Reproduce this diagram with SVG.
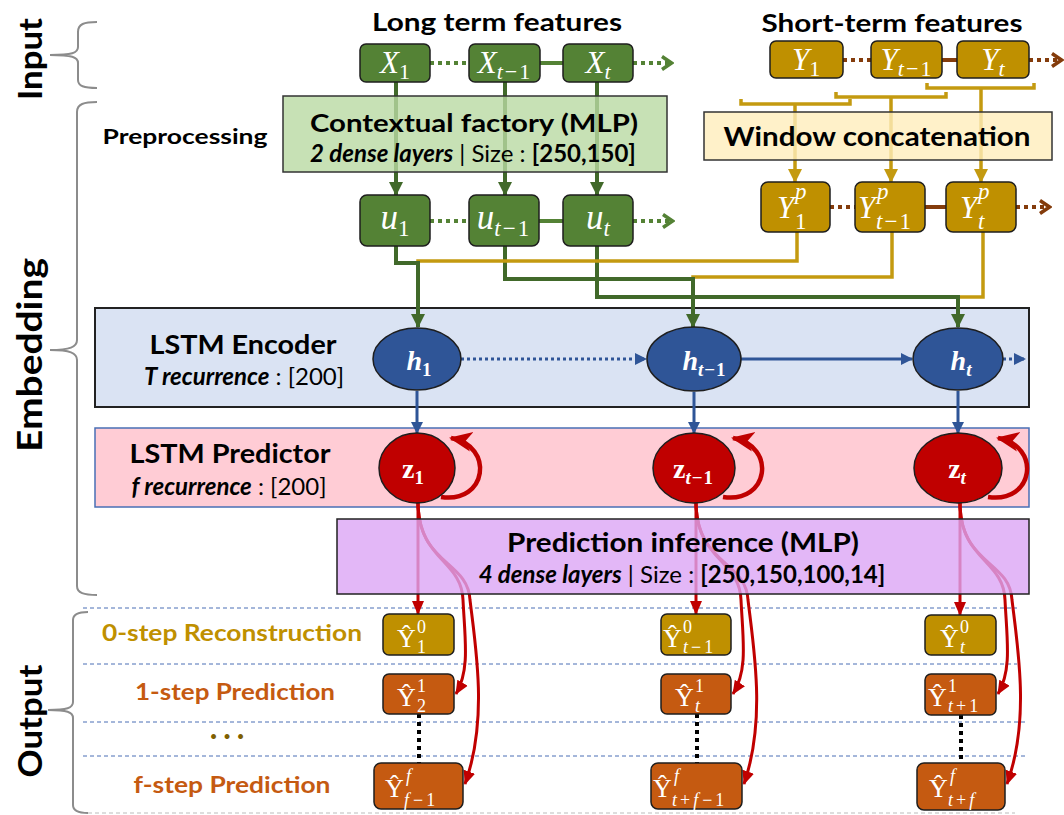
<svg xmlns="http://www.w3.org/2000/svg" width="1064" height="815" viewBox="0 0 1064 815">
<style>
.t{font-family:Lato,"Open Sans",sans-serif;font-weight:bold;fill:#000}
.n{font-weight:normal}
.i{font-style:italic}
.m{font-family:"Liberation Serif",serif;fill:#fff}
.mi{font-style:italic}
.mb{font-weight:bold}
.gbox{fill:#548235;stroke:#1e1e1e;stroke-width:1.5}
.ybox{fill:#bf9000;stroke:#1e1e1e;stroke-width:1.5}
.obox{fill:#c55a11;stroke:#1e1e1e;stroke-width:1.5}
.brace{fill:none;stroke:#8c8c8c;stroke-width:2}
.grid{stroke:#4a6fb5;stroke-width:1;stroke-dasharray:4 3}
.gl{fill:none;stroke:#41692a;stroke-width:4}
.gd{fill:none;stroke:#548235;stroke-width:4;stroke-dasharray:4 4}
.gs{fill:none;stroke:#548235;stroke-width:4}
.yl{fill:none;stroke:#c49a10;stroke-width:3.5}
.bd{fill:none;stroke:#843c0c;stroke-width:4;stroke-dasharray:4 4}
.bs{fill:none;stroke:#843c0c;stroke-width:4}
.bl{fill:none;stroke:#2f5597;stroke-width:3}
.bld{fill:none;stroke:#2f5597;stroke-width:3;stroke-dasharray:3 3}
.rl{fill:none;stroke:#c00000;stroke-width:3}
.kd{fill:none;stroke:#000;stroke-width:4;stroke-dasharray:4 4}
</style>
<defs>
<marker id="aG" markerUnits="userSpaceOnUse" markerWidth="14" markerHeight="14" viewBox="0 0 14 14" refX="13" refY="7" orient="auto"><path d="M0,0 L14,7 L0,14 z" fill="#41692a"/></marker>
<marker id="aY" markerUnits="userSpaceOnUse" markerWidth="14" markerHeight="14" viewBox="0 0 14 14" refX="13" refY="7" orient="auto"><path d="M0,0 L14,7 L0,14 z" fill="#c49a10"/></marker>
<marker id="aB" markerUnits="userSpaceOnUse" markerWidth="12" markerHeight="12" viewBox="0 0 12 12" refX="11" refY="6" orient="auto"><path d="M0,0 L12,6 L0,12 z" fill="#2f5597"/></marker>
<marker id="aR" markerUnits="userSpaceOnUse" markerWidth="14" markerHeight="14" viewBox="0 0 14 14" refX="13" refY="7" orient="auto"><path d="M0,1 L14,7 L0,13 z" fill="#c00000"/></marker>
<marker id="aRL" markerUnits="userSpaceOnUse" markerWidth="24" markerHeight="24" viewBox="0 0 24 24" refX="21" refY="12" orient="auto"><path d="M0,2 L23,12 L0,22 L6,12 z" fill="#c00000"/></marker>
<marker id="cG" markerUnits="userSpaceOnUse" markerWidth="14" markerHeight="16" viewBox="0 0 14 16" refX="12" refY="8" orient="auto"><path d="M2,1.5 L11.5,8 L2,14.5" fill="none" stroke="#548235" stroke-width="3.5"/></marker>
<marker id="cBr" markerUnits="userSpaceOnUse" markerWidth="14" markerHeight="16" viewBox="0 0 14 16" refX="12" refY="8" orient="auto"><path d="M2,1.5 L11.5,8 L2,14.5" fill="none" stroke="#843c0c" stroke-width="3.5"/></marker>
</defs>

<rect width="1064" height="815" fill="#fff"/>

<!-- side labels and braces -->
<g id="side-labels">
<path class="brace" d="M97,22 C84,22 78,24 78,32 V47 C78,53 72,55 50,55 C72,55 78,57 78,63 V80 C78,86 84,88 97,88"/>
<path class="brace" d="M97,102 C84,102 77,104 77,112 V340 C77,347 70,350 50,350 C70,350 77,353 77,360 V586 C77,593 84,595 97,595"/>
<path class="brace" d="M88,612 C78,612 73,614 73,620 V702 C73,708 67,710 48,710 C67,710 73,712 73,718 V805 C73,811 78,813 88,813"/>
<text class="t" transform="translate(42,59) rotate(-90)" text-anchor="middle" font-size="32" textLength="82" lengthAdjust="spacingAndGlyphs">Input</text>
<text class="t" transform="translate(42,355) rotate(-90)" text-anchor="middle" font-size="34" textLength="194" lengthAdjust="spacingAndGlyphs">Embedding</text>
<text class="t" transform="translate(42,721) rotate(-90)" text-anchor="middle" font-size="32" textLength="113" lengthAdjust="spacingAndGlyphs">Output</text>
</g>

<!-- output grid lines -->
<g id="grid">
<line class="grid" x1="83" y1="608" x2="1017" y2="608"/>
<line class="grid" x1="83" y1="664" x2="1017" y2="664"/>
<line class="grid" x1="83" y1="722" x2="1027" y2="722"/>
<line class="grid" x1="83" y1="756" x2="1027" y2="756"/>
<line x1="88" y1="813" x2="1015" y2="813" stroke="#bbbbbb" stroke-width="1" stroke-dasharray="4 3"/>
</g>

<!-- titles -->
<g id="titles">
<text class="t" x="497" y="31" text-anchor="middle" font-size="24" textLength="250" lengthAdjust="spacingAndGlyphs">Long term features</text>
<text class="t" x="892" y="32" text-anchor="middle" font-size="24" textLength="261" lengthAdjust="spacingAndGlyphs">Short-term features</text>
<text class="t" x="185" y="144" text-anchor="middle" font-size="21" textLength="165" lengthAdjust="spacingAndGlyphs">Preprocessing</text>
<text class="t" x="232" y="641" text-anchor="middle" font-size="22" style="fill:#bf9000" textLength="260" lengthAdjust="spacingAndGlyphs">0-step Reconstruction</text>
<text class="t" x="235" y="700" text-anchor="middle" font-size="22" style="fill:#c55a11" textLength="200" lengthAdjust="spacingAndGlyphs">1-step Prediction</text>
<text class="t" x="227" y="745" text-anchor="middle" font-size="26" style="fill:#7f6000">· · ·</text>
<text class="t" x="232" y="793" text-anchor="middle" font-size="22" style="fill:#c55a11" textLength="197" lengthAdjust="spacingAndGlyphs">f-step Prediction</text>
</g>

<!-- background layer boxes -->
<g id="lstm-encoder">
<rect x="95" y="308" width="934" height="99" fill="#dae3f3" stroke="#222" stroke-width="2"/>
<text class="t" x="243" y="354" text-anchor="middle" font-size="26" textLength="187" lengthAdjust="spacingAndGlyphs">LSTM Encoder</text>
<text class="t" x="244" y="385" text-anchor="middle" font-size="24"><tspan class="i">T recurrence</tspan><tspan class="n"> : </tspan><tspan class="n">[200]</tspan></text>
</g>
<g id="lstm-predictor">
<rect x="95" y="428" width="934" height="79" fill="#ffccd5" stroke="#4a6fb5" stroke-width="1.5"/>
<text class="t" x="230" y="463" text-anchor="middle" font-size="26" textLength="201" lengthAdjust="spacingAndGlyphs">LSTM Predictor</text>
<text class="t" x="229" y="495" text-anchor="middle" font-size="24"><tspan class="i">f recurrence</tspan><tspan class="n"> : </tspan><tspan class="n">[200]</tspan></text>
</g>

<!-- connectors -->
<g id="connectors">
<path class="gl" d="M396,82 V195" marker-end="url(#aG)"/>
<path class="gl" d="M505,82 V195" marker-end="url(#aG)"/>
<path class="gl" d="M597,82 V195" marker-end="url(#aG)"/>
<path class="gd" d="M430,63 H469"/>
<path class="gs" d="M540,63 H563"/>
<path class="gd" d="M633,63 H672" marker-end="url(#cG)"/>
<path class="bd" d="M843,60 H871"/>
<path class="bs" d="M942,60 H957"/>
<path class="bd" d="M1029,60 H1062" marker-end="url(#cBr)"/>
<path class="yl" d="M741,99 V104 H850 V99"/>
<path class="yl" d="M836,92 V97 H946 V92"/>
<path class="yl" d="M927,83 V88 H1034 V83"/>
<path class="yl" d="M795,104 V182" marker-end="url(#aY)"/>
<path class="yl" d="M891,97 V182" marker-end="url(#aY)"/>
<path class="yl" d="M981,88 V182" marker-end="url(#aY)"/>
<path class="gd" d="M430,221 H469"/>
<path class="gs" d="M539,221 H563"/>
<path class="gd" d="M633,221 H673" marker-end="url(#cG)"/>
<path class="bd" d="M830,207 H855"/>
<path class="bs" d="M925,207 H946"/>
<path class="bd" d="M1016,207 H1050" marker-end="url(#cBr)"/>
<path class="gl" d="M396,246 V263 H418"/>
<path class="gl" d="M505,246 V279 H693"/>
<path class="gl" d="M597,246 V297 H958"/>
<path class="yl" d="M797,232 V261 H418 V300"/>
<path class="yl" d="M892,232 V277 H693 V300"/>
<path class="yl" d="M983,232 V297 H958 V300"/>
<path class="gl" d="M418,261 V327" marker-end="url(#aG)"/>
<path class="gl" d="M693,277 V327" marker-end="url(#aG)"/>
<path class="gl" d="M958,295 V327" marker-end="url(#aG)"/>
<path class="bld" d="M461,359 H646" marker-end="url(#aB)"/>
<path class="bl" d="M741,359 H912" marker-end="url(#aB)"/>
<path class="bld" d="M1003,359 H1025" marker-end="url(#aB)"/>
<path class="bl" d="M417,391 V433" marker-end="url(#aB)"/>
<path class="bl" d="M694,392 V433" marker-end="url(#aB)"/>
<path class="bl" d="M958,391 V433" marker-end="url(#aB)"/>
<path d="M441,497 C487,504 495,446 451,438" fill="none" stroke="#c00000" stroke-width="4.5" marker-end="url(#aRL)"/>
<path d="M723,497 C769,504 777,446 733,438" fill="none" stroke="#c00000" stroke-width="4.5" marker-end="url(#aRL)"/>
<path d="M988,497 C1034,504 1042,446 998,438" fill="none" stroke="#c00000" stroke-width="4.5" marker-end="url(#aRL)"/>
<path class="rl" d="M418,502 V614" marker-end="url(#aR)"/>
<path class="rl" d="M418,502 C418,560 462,560 463,600 C465,640 470,670 456,694" marker-end="url(#aR)"/>
<path class="rl" d="M418,502 C418,565 468,560 470,600 C476,650 488,720 465,784" marker-end="url(#aR)"/>
<path class="rl" d="M696,502 V614" marker-end="url(#aR)"/>
<path class="rl" d="M696,502 C696,560 740,560 741,600 C743,640 748,670 733,694" marker-end="url(#aR)"/>
<path class="rl" d="M696,502 C696,565 746,560 748,600 C754,650 766,720 744,784" marker-end="url(#aR)"/>
<path class="rl" d="M960,503 V615" marker-end="url(#aR)"/>
<path class="rl" d="M960,503 C960,560 1004,560 1005,600 C1007,640 1012,670 998,694" marker-end="url(#aR)"/>
<path class="rl" d="M960,503 C960,565 1010,560 1012,600 C1018,650 1030,720 1007,784" marker-end="url(#aR)"/>
<path class="kd" d="M419,714 V763"/>
<path class="kd" d="M697,714 V763"/>
<path class="kd" d="M961,715 V763"/>
</g>

<!-- translucent module boxes -->
<g id="contextual-factory">
<rect x="283" y="96" width="384" height="76" fill="#b9d9a3" fill-opacity="0.8" stroke="#333" stroke-width="1.5"/>
<text class="t" x="474" y="132" text-anchor="middle" font-size="25" textLength="328" lengthAdjust="spacingAndGlyphs">Contextual factory (MLP)</text>
<text class="t" x="473" y="162" text-anchor="middle" font-size="24"><tspan class="i">2 dense layers</tspan><tspan class="n"> | Size : </tspan><tspan>[250,150]</tspan></text>
</g>
<g id="window-concatenation">
<rect x="704" y="112" width="348" height="48" fill="#ffeebb" fill-opacity="0.8" stroke="#333" stroke-width="1.5"/>
<text class="t" x="877" y="146" text-anchor="middle" font-size="26" textLength="307" lengthAdjust="spacingAndGlyphs">Window concatenation</text>
</g>
<g id="prediction-inference">
<rect x="337" y="519" width="692" height="75" fill="#dca5f5" fill-opacity="0.8" stroke="#222" stroke-width="1.5"/>
<text class="t" x="683" y="552" text-anchor="middle" font-size="26" textLength="352" lengthAdjust="spacingAndGlyphs">Prediction inference (MLP)</text>
<text class="t" x="682" y="583" text-anchor="middle" font-size="24"><tspan class="i">4 dense layers</tspan><tspan class="n"> | Size : </tspan><tspan>[250,150,100,14]</tspan></text>
</g>

<g id="X1"><rect class="gbox" x="360" y="44" width="70" height="38" rx="6"/>
<text class="m" x="395" y="73" text-anchor="middle" font-size="31"><tspan class="mi">X</tspan><tspan dy="6" font-size="22">1</tspan></text></g>
<g id="Xt-1"><rect class="gbox" x="469" y="44" width="71" height="38" rx="6"/>
<text class="m" x="504" y="73" text-anchor="middle" font-size="31"><tspan class="mi">X</tspan><tspan dy="6" font-size="22" class="mi">t</tspan><tspan font-size="22" dx="2">−</tspan><tspan font-size="22" dx="2">1</tspan></text></g>
<g id="Xt"><rect class="gbox" x="563" y="44" width="70" height="38" rx="6"/>
<text class="m" x="598" y="73" text-anchor="middle" font-size="31"><tspan class="mi">X</tspan><tspan dy="6" font-size="22" class="mi">t</tspan></text></g>

<g id="Y1"><rect class="ybox" x="770" y="41" width="73" height="37" rx="6"/>
<text class="m" x="806" y="70" text-anchor="middle" font-size="31"><tspan class="mi">Y</tspan><tspan dy="6" font-size="22">1</tspan></text></g>
<g id="Yt-1"><rect class="ybox" x="871" y="41" width="71" height="37" rx="6"/>
<text class="m" x="906" y="70" text-anchor="middle" font-size="31"><tspan class="mi">Y</tspan><tspan dy="6" font-size="22" class="mi">t</tspan><tspan font-size="22" dx="2">−</tspan><tspan font-size="22" dx="2">1</tspan></text></g>
<g id="Yt"><rect class="ybox" x="957" y="41" width="72" height="37" rx="6"/>
<text class="m" x="993" y="70" text-anchor="middle" font-size="31"><tspan class="mi">Y</tspan><tspan dy="6" font-size="22" class="mi">t</tspan></text></g>

<g id="u1"><rect class="gbox" x="360" y="195" width="70" height="51" rx="7"/>
<text class="m" x="395" y="229" text-anchor="middle" font-size="35"><tspan class="mi">u</tspan><tspan dy="7" font-size="23">1</tspan></text></g>
<g id="ut-1"><rect class="gbox" x="469" y="195" width="70" height="51" rx="7"/>
<text class="m" x="503" y="229" text-anchor="middle" font-size="35"><tspan class="mi">u</tspan><tspan dy="7" font-size="23" class="mi">t</tspan><tspan font-size="23" dx="2">−</tspan><tspan font-size="23" dx="2">1</tspan></text></g>
<g id="ut"><rect class="gbox" x="563" y="195" width="70" height="51" rx="7"/>
<text class="m" x="598" y="229" text-anchor="middle" font-size="35"><tspan class="mi">u</tspan><tspan dy="7" font-size="23" class="mi">t</tspan></text></g>

<g id="Yp1"><rect class="ybox" x="761" y="182" width="69" height="50" rx="7"/>
<text class="m mi" x="777" y="218" font-size="31">Y</text>
<text class="m mi" x="795" y="199" font-size="23">p</text>
<text class="m" x="795" y="229" font-size="23">1</text></g>
<g id="Ypt-1"><rect class="ybox" x="855" y="182" width="70" height="50" rx="7"/>
<text class="m mi" x="858" y="218" font-size="31">Y</text>
<text class="m mi" x="877" y="199" font-size="23">p</text>
<text class="m" x="876" y="229" font-size="23"><tspan class="mi">t</tspan><tspan dx="2">−</tspan><tspan dx="2">1</tspan></text></g>
<g id="Ypt"><rect class="ybox" x="946" y="182" width="70" height="50" rx="7"/>
<text class="m mi" x="960" y="218" font-size="31">Y</text>
<text class="m mi" x="978" y="199" font-size="23">p</text>
<text class="m mi" x="978" y="229" font-size="23">t</text></g>

<g id="h1"><ellipse cx="417" cy="359" rx="44" ry="31" fill="#2f5597" stroke="#1e1e1e" stroke-width="1.5"/>
<text class="m mb" x="419" y="370" text-anchor="middle" font-size="28"><tspan class="mi">h</tspan><tspan dy="6" font-size="19">1</tspan></text></g>
<g id="ht-1"><ellipse cx="694" cy="359" rx="47" ry="32" fill="#2f5597" stroke="#1e1e1e" stroke-width="1.5"/>
<text class="m mb" x="704" y="370" text-anchor="middle" font-size="28"><tspan class="mi">h</tspan><tspan dy="6" font-size="19" class="mi">t</tspan><tspan font-size="19" dx="1">−</tspan><tspan font-size="19" dx="1">1</tspan></text></g>
<g id="ht"><ellipse cx="958" cy="359" rx="45" ry="31" fill="#2f5597" stroke="#1e1e1e" stroke-width="1.5"/>
<text class="m mb" x="961" y="370" text-anchor="middle" font-size="28"><tspan class="mi">h</tspan><tspan dy="6" font-size="19" class="mi">t</tspan></text></g>

<g id="z1"><ellipse cx="417" cy="468" rx="38" ry="35" fill="#c00000" stroke="#1e1e1e" stroke-width="1.5"/>
<text class="m mb" x="413" y="478" text-anchor="middle" font-size="28"><tspan>z</tspan><tspan dy="6" font-size="19">1</tspan></text></g>
<g id="zt-1"><ellipse cx="694" cy="468" rx="41" ry="35" fill="#c00000" stroke="#1e1e1e" stroke-width="1.5"/>
<text class="m mb" x="693" y="478" text-anchor="middle" font-size="28"><tspan>z</tspan><tspan dy="6" font-size="19" class="mi">t</tspan><tspan font-size="19" dx="1">−</tspan><tspan font-size="19" dx="1">1</tspan></text></g>
<g id="zt"><ellipse cx="958" cy="468" rx="44" ry="35" fill="#c00000" stroke="#1e1e1e" stroke-width="1.5"/>
<text class="m mb" x="957" y="478" text-anchor="middle" font-size="28"><tspan>z</tspan><tspan dy="6" font-size="19" class="mi">t</tspan></text></g>

<g id="Yhat-1-0"><rect class="ybox" x="383" y="614" width="71" height="41" rx="6"/>
<text class="m" x="397" y="647" font-size="26">Ŷ</text>
<text class="m" x="417" y="633" font-size="18">0</text>
<text class="m" x="417" y="653" font-size="18">1</text></g>
<g id="Yhat-2-1"><rect class="obox" x="383" y="674" width="71" height="40" rx="6"/>
<text class="m" x="397" y="706" font-size="26">Ŷ</text>
<text class="m" x="417" y="692" font-size="18">1</text>
<text class="m" x="417" y="712" font-size="18">2</text></g>
<g id="Yhat-f-1-f"><rect class="obox" x="374" y="763" width="89" height="46" rx="7"/>
<text class="m" x="385" y="797" font-size="26">Ŷ</text>
<text class="m mi" x="406" y="782" font-size="18">f</text>
<text class="m" x="404" y="806" font-size="18"><tspan class="mi">f</tspan><tspan dx="4">−</tspan><tspan dx="3">1</tspan></text></g>

<g id="Yhat-t-1-0"><rect class="ybox" x="661" y="614" width="70" height="41" rx="6"/>
<text class="m" x="663" y="647" font-size="26">Ŷ</text>
<text class="m" x="683" y="633" font-size="18">0</text>
<text class="m" x="683" y="653" font-size="18"><tspan class="mi">t</tspan><tspan dx="3">−</tspan><tspan dx="3">1</tspan></text></g>
<g id="Yhat-t-1"><rect class="obox" x="661" y="674" width="70" height="40" rx="6"/>
<text class="m" x="675" y="706" font-size="26">Ŷ</text>
<text class="m" x="695" y="692" font-size="18">1</text>
<text class="m mi" x="695" y="712" font-size="18">t</text></g>
<g id="Yhat-t+f-1-f"><rect class="obox" x="651" y="763" width="91" height="46" rx="7"/>
<text class="m" x="653" y="797" font-size="26">Ŷ</text>
<text class="m mi" x="674" y="782" font-size="18">f</text>
<text class="m" x="672" y="806" font-size="18"><tspan class="mi">t</tspan><tspan dx="3">+</tspan><tspan class="mi" dx="3">f</tspan><tspan dx="4">−</tspan><tspan dx="3">1</tspan></text></g>

<g id="Yhat-t-0"><rect class="ybox" x="925" y="615" width="71" height="40" rx="6"/>
<text class="m" x="940" y="647" font-size="26">Ŷ</text>
<text class="m" x="960" y="633" font-size="18">0</text>
<text class="m mi" x="960" y="653" font-size="18">t</text></g>
<g id="Yhat-t+1-1"><rect class="obox" x="925" y="674" width="71" height="41" rx="6"/>
<text class="m" x="928" y="706" font-size="26">Ŷ</text>
<text class="m" x="948" y="692" font-size="18">1</text>
<text class="m" x="948" y="712" font-size="18"><tspan class="mi">t</tspan><tspan dx="3">+</tspan><tspan dx="3">1</tspan></text></g>
<g id="Yhat-t+f-f"><rect class="obox" x="917" y="763" width="88" height="47" rx="7"/>
<text class="m" x="929" y="797" font-size="26">Ŷ</text>
<text class="m mi" x="950" y="782" font-size="18">f</text>
<text class="m" x="948" y="806" font-size="18"><tspan class="mi">t</tspan><tspan dx="3">+</tspan><tspan class="mi" dx="3">f</tspan></text></g>
</svg>
